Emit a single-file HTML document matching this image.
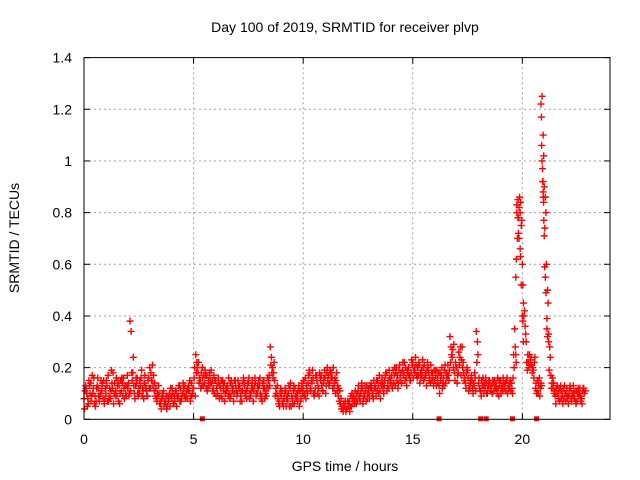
<!DOCTYPE html>
<html><head><meta charset="utf-8"><style>
html,body{margin:0;padding:0;background:#fff;}
svg{display:block;font-family:"Liberation Sans",Arial,sans-serif;}
</style></head><body>
<svg id="chart" width="640" height="480" viewBox="0 0 640 480">
<text x="345" y="32" font-size="14" text-anchor="middle">Day 100 of 2019, SRMTID for receiver plvp</text>
<text x="345" y="471" font-size="14" text-anchor="middle">GPS time / hours</text>
<text transform="translate(19,238) rotate(-90)" font-size="14" text-anchor="middle">SRMTID / TECUs</text>
<g id="grid"></g>
<g id="ticks"></g>
<g id="marks"></g>
<rect x="84" y="57.6" width="526" height="361.7" fill="none" stroke="#000" stroke-width="1"/>
</svg>
<script>
const xTicks=[0,5,10,15,20];
const yTicks=[0,0.2,0.4,0.6,0.8,1,1.2,1.4];
const yTickLabels=["0","0.2","0.4","0.6","0.8","1","1.2","1.4"];
const seriesA=[
.08,.12,.06,.14,.10,.09,.13,.07,.11,.15,
.10,.17,.08,.12,.14,.09,.13,.11,.16,.10,
.12,.38,.15,.10,.14,.12,.16,.11,.13,.09,
.20,.15,.11,.08,.13,.06,.09,.07,.05,.10,
.08,.06,.11,.09,.12,.10,.13,.08,.11,.14,
.12,.25,.18,.15,.20,.14,.17,.13,.19,.12,
.15,.10,.13,.08,.14,.11,.16,.09,.12,.15,
.10,.13,.07,.15,.11,.14,.09,.12,.16,.10,
.13,.09,.15,.11,.12,.28,.20,.15,.10,.07,
.09,.05,.11,.07,.12,.08,.06,.10,.13,.08,
.12,.16,.10,.18,.14,.09,.17,.12,.15,.11,
.16,.20,.14,.18,.12,.15,.09,.06,.04,.05,
.04,.07,.05,.09,.08,.11,.07,.12,.09,.13,
.10,.14,.08,.12,.15,.11,.16,.13,.18,.12,
.15,.19,.13,.17,.21,.14,.18,.16,.20,.15,
.22,.18,.16,.21,.19,.15,.17,.20,.14,.18,
.15,.19,.13,.17,.16,.14,.21,.32,.24,.18,
.20,.26,.17,.22,.14,.19,.12,.15,.13,.34,
.14,.11,.16,.12,.10,.15,.13,.11,.14,.12,
.15,.11,.13,.16,.12,.14,.25,.55,.85,.80,
.60,.42,.22,.20,.24,.19,.12,.15,.09,1.25,
.90,.60,.33,.17,.12,.09,.13,.07,.11,.08,
.10,.06,.12,.09,.11,.07,.10,.08,.12];
const seriesB=[
.11,.05,.13,.09,.16,.07,.12,.10,.14,.08,
.13,.09,.19,.06,.11,.15,.10,.14,.08,.13,
.09,.34,.24,.13,.10,.15,.09,.14,.11,.16,
.18,.13,.09,.10,.06,.08,.05,.09,.07,.12,
.10,.07,.09,.13,.08,.12,.09,.11,.07,.10,
.20,.22,.14,.18,.13,.17,.12,.16,.15,.10,
.12,.14,.09,.13,.10,.12,.08,.13,.10,.11,
.13,.09,.14,.10,.12,.08,.13,.11,.09,.12,
.10,.14,.08,.13,.17,.24,.18,.12,.08,.10,
.06,.10,.08,.13,.05,.11,.09,.07,.11,.14,
.09,.13,.17,.11,.16,.12,.10,.18,.13,.16,
.13,.17,.18,.12,.16,.11,.07,.04,.06,.03,
.06,.05,.08,.06,.10,.09,.12,.08,.11,.10,
.13,.09,.12,.15,.10,.14,.12,.17,.13,.16,
.13,.17,.20,.14,.18,.22,.15,.19,.17,.23,
.19,.21,.17,.18,.23,.16,.19,.15,.18,.13,
.17,.14,.18,.12,.19,.16,.15,.28,.20,.22,
.17,.24,.28,.15,.18,.11,.14,.10,.16,.30,
.12,.15,.10,.14,.13,.11,.15,.13,.10,.15,
.12,.14,.11,.13,.15,.10,.35,.80,.82,.75,
.45,.33,.25,.21,.18,.22,.10,.13,.14,1.10,
.86,.50,.28,.14,.10,.12,.08,.13,.06,.10,
.08,.11,.07,.10,.06,.12,.09,.11];
const seriesC=[
.04,.10,.15,.07,.12,.05,.16,.09,.13,.06,
.15,.07,.11,.18,.09,.13,.06,.16,.12,.09,
.14,.11,.18,.08,.16,.10,.19,.08,.12,.15,
.12,.21,.14,.07,.10,.04,.11,.06,.09,.05,
.12,.09,.05,.13,.07,.14,.08,.12,.15,.09,
.16,.18,.22,.12,.16,.19,.11,.18,.14,.17,
.09,.16,.12,.15,.07,.13,.10,.15,.07,.13,
.15,.07,.11,.13,.08,.16,.11,.07,.14,.13,
.16,.07,.12,.09,.15,.21,.16,.09,.13,.05,
.11,.08,.05,.10,.14,.06,.12,.09,.05,.12,
.15,.08,.14,.12,.19,.10,.15,.09,.17,.14,
.10,.15,.19,.16,.14,.18,.12,.08,.03,.07,
.07,.03,.10,.08,.06,.13,.10,.06,.13,.08,
.08,.12,.15,.09,.13,.08,.14,.15,.11,.19,
.17,.14,.18,.12,.16,.19,.22,.13,.17,.18,
.16,.24,.20,.14,.17,.21,.13,.18,.21,.16,
.19,.16,.10,.20,.13,.18,.17,.22,.27,.15,
.14,.21,.23,.18,.12,.16,.15,.12,.18,.22,
.16,.09,.13,.16,.12,.13,.10,.15,.12,.09,
.10,.16,.14,.10,.14,.12,.20,.62,.78,.84,
.52,.36,.19,.25,.21,.16,.14,.10,.12,.92,
.74,.39,.19,.12,.14,.06,.10,.11,.09,.13,
.12,.09,.08,.13,.07,.10,.12,.06,.10];
const seriesD=[
.13,.08,.10,.17,.06,.12,.09,.15,.08,.12,
.07,.12,.14,.10,.16,.07,.15,.09,.13,.17,
.10,.18,.13,.16,.09,.13,.12,.17,.09,.12,
.15,.17,.12,.09,.07,.10,.07,.04,.08,.09,
.06,.11,.08,.07,.10,.09,.11,.13,.09,.12,
.09,.20,.16,.13,.17,.12,.15,.14,.11,.15,
.13,.08,.15,.11,.12,.09,.14,.11,.15,.09,
.12,.11,.16,.09,.14,.10,.15,.13,.10,.15,
.08,.12,.10,.16,.13,.18,.22,.10,.06,.12,
.07,.12,.09,.05,.09,.13,.08,.11,.07,.10,
.10,.11,.19,.15,.10,.17,.13,.16,.11,.19,
.18,.13,.16,.20,.10,.13,.11,.05,.05,.04,
.05,.09,.06,.11,.07,.08,.14,.10,.07,.12,
.12,.10,.13,.11,.17,.13,.10,.18,.15,.14,
.12,.20,.15,.19,.14,.17,.20,.18,.15,.21,
.20,.17,.22,.16,.20,.18,.22,.16,.15,.19,
.13,.18,.15,.14,.21,.17,.19,.25,.29,.20,
.18,.28,.20,.16,.20,.13,.17,.14,.11,.25,
.11,.13,.14,.10,.15,.11,.14,.12,.16,.13,
.13,.12,.15,.12,.11,.16,.28,.70,.86,.77,
.40,.30,.22,.23,.20,.24,.11,.16,.13,1.02,
.80,.45,.24,.16,.11,.10,.12,.08,.12,.07,
.09,.13,.10,.08,.11,.09,.07,.12,.11];
const spikeTimes=[19.7,19.72,19.75,19.8,19.82,19.85,19.9,19.92,19.95,20.0,20.02,20.05,20.85,20.87,20.88,20.9,20.92,20.94,20.95,20.96,20.97,20.98,21.0,21.02,21.05,21.08,21.12,21.15,21.2];
const spikeValues=[.25,.22,.83,.78,.72,.70,.66,.63,.52,.40,.38,.30,1.22,1.17,1.06,1.0,.97,.92,.88,.86,.84,.77,.71,.59,.55,.49,.35,.32,.30];
const zeroTimes=[5.4,16.2,18.1,18.35,19.55,20.65];

const NS="http://www.w3.org/2000/svg";
const X0=84,X1=610,Y0=419.3,Y1=57.6,XMAX=24,YMAX=1.4;
function sx(v){return X0+(X1-X0)*v/XMAX;}
function sy(v){return Y0-(Y0-Y1)*v/YMAX;}
function mk(tag,attrs,parent){const e=document.createElementNS(NS,tag);for(const k in attrs)e.setAttribute(k,attrs[k]);parent.appendChild(e);return e;}
const grid=document.getElementById('grid'),ticks=document.getElementById('ticks'),marks=document.getElementById('marks');
xTicks.forEach(t=>{
  const x=sx(t);
  if(t>0){const g=mk('line',{x1:x,x2:x,y1:Y0,y2:Y1,stroke:'#a0a0a0','stroke-dasharray':'2,3'},grid);
  
  }
  mk('line',{x1:x,x2:x,y1:Y0,y2:Y0-6,stroke:'#000'},ticks);
  mk('line',{x1:x,x2:x,y1:Y1,y2:Y1+6,stroke:'#000'},ticks);
  const l=mk('text',{x:x,y:444,'font-size':14,'text-anchor':'middle'},ticks);l.textContent=t;
  
  
});
yTicks.forEach((t,i)=>{
  const y=sy(t);
  if(t>0&&t<YMAX){const g=mk('line',{x1:X0,x2:X1,y1:y,y2:y,stroke:'#a0a0a0','stroke-dasharray':'2,3'},grid);
  
  }
  mk('line',{x1:X0,x2:X0+6,y1:y,y2:y,stroke:'#000'},ticks);
  mk('line',{x1:X1,x2:X1-6,y1:y,y2:y,stroke:'#000'},ticks);
  const l=mk('text',{x:72,y:y+5,'font-size':14,'text-anchor':'end'},ticks);l.textContent=yTickLabels[i];
  
  
});
function plus(t,v){
  const x=sx(t),y=sy(v);
  const p=mk('path',{d:`M${x-3.5},${y}H${x+3.5}M${x},${y-3.5}V${y+3.5}`,stroke:'#f00','stroke-width':1.4,fill:'none'},marks);
  
  
}
seriesA.forEach((v,i)=>plus(i*0.1,v));
seriesB.forEach((v,i)=>plus(i*0.1+0.05,v));
seriesC.forEach((v,i)=>plus(i*0.1+0.025,v));
seriesD.forEach((v,i)=>plus(i*0.1+0.075,v));
spikeTimes.forEach((t,i)=>plus(t,spikeValues[i]));
zeroTimes.forEach(t=>{
  const r=mk('rect',{x:sx(t)-2.5,y:sy(0)-3,width:5,height:5,fill:'#f00'},marks);
  
  
});
</script>
</body></html>
